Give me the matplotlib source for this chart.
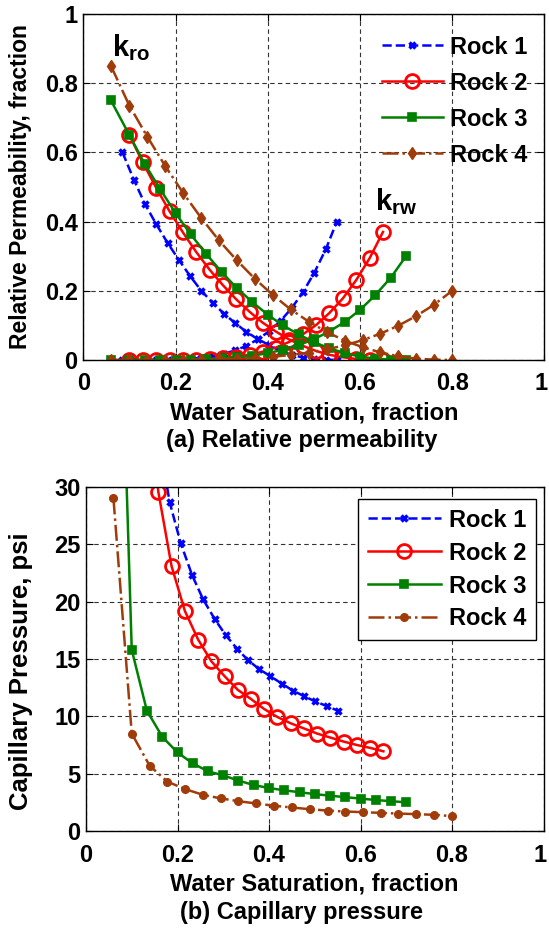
import matplotlib
matplotlib.use("Agg")
import matplotlib.pyplot as plt
import matplotlib.transforms as mtransforms

plt.rcParams['font.family'] = ['Liberation Sans', 'DejaVu Sans']
plt.rcParams['font.weight'] = 'bold'
plt.rcParams['axes.labelweight'] = 'bold'
plt.rcParams['mathtext.fontset'] = 'custom'
plt.rcParams['mathtext.rm'] = 'Liberation Sans:bold'
plt.rcParams['mathtext.it'] = 'Liberation Sans:bold'

labels = ["Rock 1", "Rock 2", "Rock 3", "Rock 4"]

# water saturation of each rock
sw1 = [0.085, 0.11, 0.134, 0.158, 0.183, 0.207, 0.232, 0.256, 0.281, 0.305,
       0.33, 0.354, 0.379, 0.403, 0.428, 0.452, 0.477, 0.501, 0.526, 0.55]
sw2 = [0.1, 0.129, 0.158, 0.187, 0.216, 0.245, 0.274, 0.303, 0.332, 0.361,
       0.389, 0.418, 0.447, 0.476, 0.505, 0.534, 0.563, 0.592, 0.621, 0.65]
sw3 = [0.06, 0.1, 0.133, 0.167, 0.2, 0.233, 0.267, 0.3, 0.333, 0.367,
       0.4, 0.433, 0.467, 0.5, 0.533, 0.567, 0.6, 0.633, 0.667, 0.7]
sw4 = [0.06, 0.1, 0.139, 0.178, 0.217, 0.256, 0.294, 0.333, 0.372, 0.411,
       0.45, 0.489, 0.528, 0.567, 0.606, 0.644, 0.683, 0.722, 0.761, 0.8]

# oil relative permeability
kro1 = [0.60, 0.52, 0.45, 0.393, 0.338, 0.29, 0.242, 0.20, 0.165, 0.134,
        0.106, 0.081, 0.06, 0.043, 0.026, 0.015, 0.007, 0.003, 0.001, 0.0]
kro2 = [0.65, 0.571, 0.498, 0.43, 0.369, 0.312, 0.261, 0.216, 0.175, 0.139,
        0.108, 0.082, 0.059, 0.041, 0.026, 0.015, 0.008, 0.003, 0.001, 0.0]
kro3 = [0.75, 0.65, 0.567, 0.493, 0.425, 0.363, 0.306, 0.254, 0.208, 0.167,
        0.131, 0.10, 0.074, 0.052, 0.034, 0.02, 0.01, 0.004, 0.001, 0.0]
kro4 = [0.85, 0.735, 0.645, 0.56, 0.482, 0.41, 0.346, 0.288, 0.235, 0.188,
        0.146, 0.111, 0.081, 0.056, 0.037, 0.022, 0.011, 0.004, 0.001, 0.0]

# water relative permeability
krw1 = [0.0, 0.0, 0.0, 0.0002, 0.0006, 0.0015, 0.0034, 0.0063, 0.011, 0.018,
        0.028, 0.041, 0.06, 0.083, 0.113, 0.15, 0.197, 0.252, 0.32, 0.40]
krw2 = [0.0, 0.0, 0.0, 0.0001, 0.0005, 0.0013, 0.0028, 0.0053, 0.0094, 0.0155,
        0.024, 0.036, 0.0525, 0.074, 0.101, 0.136, 0.178, 0.231, 0.294, 0.37]
krw3 = [0.0, 0.0, 0.0, 0.0001, 0.0004, 0.0011, 0.0023, 0.0044, 0.0077, 0.0127,
        0.0197, 0.0296, 0.043, 0.06, 0.082, 0.11, 0.1445, 0.187, 0.238, 0.30]
krw4 = [0.0, 0.0, 0.0, 0.0001, 0.0003, 0.0009, 0.0018, 0.0034, 0.0058, 0.0094,
        0.0145, 0.0214, 0.0306, 0.0424, 0.0575, 0.0758, 0.099, 0.127, 0.16, 0.20]

# capillary pressure, psi
pc1 = [120, 62, 44, 34.5, 28.65, 25.1, 22.3, 20.2, 18.5, 17.1,
       15.9, 14.9, 14.1, 13.5, 12.85, 12.25, 11.75, 11.3, 10.9, 10.5]
pc2 = [80, 42, 29.6, 23.1, 19.2, 16.7, 14.8, 13.5, 12.3, 11.5,
       10.65, 9.95, 9.4, 8.95, 8.5, 8.15, 7.8, 7.5, 7.25, 6.95]
pc3 = [67, 15.8, 10.5, 8.2, 6.85, 5.9, 5.2, 4.85, 4.4, 4.0,
       3.75, 3.55, 3.38, 3.22, 3.08, 2.95, 2.83, 2.7, 2.6, 2.5]
pc4 = [29.0, 8.5, 5.7, 4.3, 3.65, 3.15, 2.85, 2.6, 2.4, 2.2,
       2.05, 1.9, 1.78, 1.7, 1.64, 1.58, 1.52, 1.47, 1.41, 1.3]

xticks = [0, 0.2, 0.4, 0.6, 0.8, 1]
xticklabels = ["0", "0.2", "0.4", "0.6", "0.8", "1"]
yticks_kr = [0, 0.2, 0.4, 0.6, 0.8, 1]
yticks_pc = [0, 5, 10, 15, 20, 25, 30]

brown = '#A03C0A'
fs = 17

styles = [
    dict(color='blue', ls='--', marker='x', ms=5, mew=2.5, lw=1.8),
    dict(color='red', ls='-', marker='o', ms=10, mew=2, mfc='none', lw=1.8),
    dict(color='green', ls='-', marker='s', ms=5.5, mew=1.2, lw=1.8),
    dict(color=brown, ls='-.', marker='d', ms=6, mew=1, lw=1.8),
]

fig = plt.figure(figsize=(5.49, 9.35), dpi=100)
ax1 = fig.add_axes([83.3 / 549, (935 - 360) / 935, 461 / 549, 346 / 935])
ax2 = fig.add_axes([86 / 549, (935 - 831) / 935, 457.5 / 549, 344 / 935])

sws = [sw1, sw2, sw3, sw4]
kros = [kro1, kro2, kro3, kro4]
krws = [krw1, krw2, krw3, krw4]
pcs = [pc1, pc2, pc3, pc4]

for sw, kro, krw, st, lab in zip(sws, kros, krws, styles, labels):
    ax1.plot(sw, kro, label=lab, **st)
    ax1.plot(sw, krw, **st)

for sw, pc, st, lab in zip(sws, pcs, styles, labels):
    st = dict(st)
    if lab == "Rock 4":
        st['marker'] = 'o'
        st['ms'] = 5.5
    ax2.plot(sw, pc, label=lab, **st)

ax1.text(0.062, 0.877, r'$\mathrm{k_{ro}}$', fontsize=21)
ax1.text(0.632, 0.434, r'$\mathrm{k_{rw}}$', fontsize=21)

for ax, yt in [(ax1, yticks_kr), (ax2, yticks_pc)]:
    ax.set_xlim(0, 1)
    ax.set_xticks(xticks)
    ax.set_xticklabels(xticklabels)
    ax.set_yticks(yt)
    ax.set_ylim(yt[0], yt[-1])
    ax.grid(True, ls=(0, (4, 3)), color='#333333', lw=0.8)
    ax.tick_params(direction='in', top=True, right=True, length=5,
                   labelsize=fs)
    ax.tick_params(axis='x', pad=9)
    ax.tick_params(axis='y', pad=4)
    for s in ax.spines.values():
        s.set_linewidth(1)
    ax.set_xlabel("Water Saturation, fraction", fontsize=fs,
                  fontweight='bold', labelpad=4)
    # keep the last "1" inside the picture
    last = ax.get_xticklabels()[-1]
    last.set_transform(last.get_transform() +
                       mtransforms.ScaledTranslation(-3 / 100, 0,
                                                     fig.dpi_scale_trans))

ax1.set_yticklabels(["0", "0.2", "0.4", "0.6", "0.8", "1"])
ax1.set_ylabel("Relative Permeability, fraction", fontsize=16.5,
               fontweight='bold')
ax2.set_ylabel("Capillary Pressure, psi", fontsize=18.5, fontweight='bold')
ax1.yaxis.set_label_coords(-0.112, 0.5)
ax2.yaxis.set_label_coords(-0.116, 0.465)

ax1.legend(loc='upper right', bbox_to_anchor=(1.0, 0.985), frameon=False,
           fontsize=fs, handlelength=2.6, handletextpad=0.3,
           labelspacing=0.55, borderaxespad=0.3)
leg2 = ax2.legend(loc='upper right', bbox_to_anchor=(0.994, 0.978),
                  fontsize=fs, handlelength=3.1, handletextpad=0.35,
                  labelspacing=0.42, fancybox=False, framealpha=1,
                  edgecolor='black', borderaxespad=0.2)
leg2.get_frame().set_linewidth(1)

fig.text(302 / 549, 1 - 441 / 935, "(a) Relative permeability",
         ha='center', va='center', fontsize=fs, fontweight='bold')
fig.text(302 / 549, 1 - 912 / 935, "(b) Capillary pressure",
         ha='center', va='center', fontsize=fs, fontweight='bold')

fig.savefig("out.png", dpi=100)
